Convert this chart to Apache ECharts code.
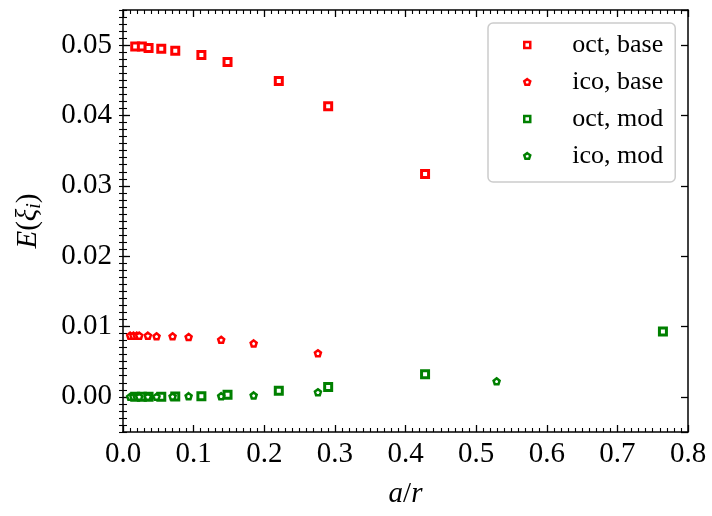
<!DOCTYPE html>
<html>
<head>
<meta charset="utf-8">
<script src="https://cdn.jsdelivr.net/npm/echarts@6/dist/echarts.min.js"></script>
<style>html,body{margin:0;padding:0;background:#fff;}#c{width:712px;height:516px;}</style>
</head>
<body>
<div id="c"></div>
<script>
// ---- data ----
const xOct = [0.0173, 0.0267, 0.0362, 0.0542, 0.074, 0.111, 0.148, 0.2206, 0.2905, 0.4277];
const octBase = [0.0498, 0.0498, 0.0496, 0.0495, 0.0492, 0.0486, 0.0476, 0.0449, 0.0413, 0.0317];
const xOctMod = [0.0173, 0.0267, 0.0362, 0.0542, 0.074, 0.111, 0.148, 0.2206, 0.2905, 0.4277, 0.7645];
const octMod = [0.0, 0.0, 0.0, 0.00002, 0.00005, 0.0001, 0.0003, 0.00085, 0.0014, 0.0032, 0.0093];
const xIco = [0.0102, 0.0149, 0.0196, 0.023, 0.0352, 0.0475, 0.0702, 0.0929, 0.139, 0.185, 0.276];
const icoBase = [0.0087, 0.0087, 0.0087, 0.0087, 0.0087, 0.0086, 0.0086, 0.0085, 0.0081, 0.0076, 0.0062];
const xIcoMod = [0.0102, 0.0149, 0.0196, 0.023, 0.0352, 0.0475, 0.0702, 0.0929, 0.139, 0.185, 0.276, 0.529];
const icoMod = [0.0, 0.0, 0.0, 0.0, 0.0, 0.0, 0.00005, 0.0001, 0.0001, 0.0002, 0.00065, 0.0022];
const seriesNames = ['oct, base', 'ico, base', 'oct, mod', 'ico, mod'];

const RED = '#ff0000', GREEN = '#008000';
const PENT = 'path://M0,-1L0.951,-0.309L0.588,0.809L-0.588,0.809L-0.951,-0.309Z';
const FONT = '"Liberation Serif", "Times New Roman", serif';

function pairs(xs, ys) { return xs.map((x, i) => [x, ys[i]]); }

const chart = echarts.init(document.getElementById('c'), null, {renderer: 'canvas'});

const lineStyle = {color: '#000', width: 1.5};
function xAx(pos, labels) {
  return {
    type: 'value', position: pos, min: 0, max: 0.8, interval: 0.1,
    axisLine: {show: true, onZero: false, lineStyle},
    axisTick: {show: true, inside: true, length: 7, lineStyle: {color: '#000', width: 1.3}},
    minorTick: {show: true, splitNumber: 10, length: 4, lineStyle: {color: '#000', width: 1.1}},
    splitLine: {show: false}, minorSplitLine: {show: false},
    axisLabel: {show: labels, fontFamily: FONT, fontSize: 29, color: '#000', margin: 8,
      formatter: v => v.toFixed(1)},
    name: labels ? '{i|a}/{i|r}' : '',
    nameLocation: 'middle', nameGap: 48,
    nameTextStyle: {fontFamily: FONT, fontSize: 29, color: '#000',
      rich: {i: {fontFamily: FONT, fontSize: 29, fontStyle: 'italic', color: '#000'}}}
  };
}
function yMain(pos, labels) {
  return {
    type: 'value', position: pos, min: -0.005, max: 0.055, splitNumber: 6,
    axisLine: {show: true, onZero: false, lineStyle},
    axisTick: {show: true, inside: true, length: 7, lineStyle: {color: '#000', width: 1.3}},
    minorTick: {show: false},
    splitLine: {show: false},
    axisLabel: {show: labels, fontFamily: FONT, fontSize: 29, color: '#000', margin: 11,
      showMinLabel: false, showMaxLabel: false, formatter: v => v.toFixed(2)},
    name: labels ? '{i|E}({i|ξ}{s|i})' : '',
    nameLocation: 'middle', nameGap: 78, nameRotate: 90,
    nameTextStyle: {fontFamily: FONT, fontSize: 29, color: '#000',
      rich: {
        i: {fontFamily: FONT, fontSize: 29, fontStyle: 'italic', color: '#000'},
        s: {fontFamily: FONT, fontSize: 20, fontStyle: 'italic', color: '#000', verticalAlign: 'bottom', padding: [14, 0, 0, 0]}
      }}
  };
}
function yMinor(pos) {
  return {
    type: 'value', position: pos, min: -0.005, max: 0.055, interval: 0.001,
    axisLine: {show: false},
    axisTick: {show: true, inside: true, length: 4, lineStyle: {color: '#000', width: 1.1}},
    axisLabel: {show: false}, splitLine: {show: false}
  };
}

const sym = [
  {symbol: 'rect', size: 7, color: RED},
  {symbol: PENT, size: 6, color: RED},
  {symbol: 'rect', size: 7, color: GREEN},
  {symbol: PENT, size: 6, color: GREEN}
];
const dataSets = [pairs(xOct, octBase), pairs(xIco, icoBase), pairs(xOctMod, octMod), pairs(xIcoMod, icoMod)];

chart.setOption({
  animation: false,
  backgroundColor: '#fff',
  grid: {left: 123, right: 24, top: 10, bottom: 84, containLabel: false, outerBoundsMode: 'none'},
  xAxis: [xAx('bottom', true), xAx('top', false)],
  yAxis: [yMain('left', true), yMain('right', false), yMinor('left'), yMinor('right')],
  legend: {
    orient: 'vertical', left: 488, top: 23,
    padding: [9, 12, 13, 35],
    itemGap: 11, itemWidth: 6, itemHeight: 6,
    backgroundColor: 'rgba(255,255,255,0.85)', borderColor: '#cccccc', borderWidth: 1.5, borderRadius: 5,
    textStyle: {fontFamily: FONT, fontSize: 26, color: '#000', padding: [0, 0, 0, 37]},
    data: seriesNames.map((n, i) => ({
      name: n, icon: sym[i].symbol === 'rect' ? 'rect' : PENT,
      itemStyle: {color: '#fff', borderColor: sym[i].color, borderWidth: 2.5}
    }))
  },
  series: seriesNames.map((n, i) => ({
    name: n, type: 'scatter', xAxisIndex: 0, yAxisIndex: 0,
    symbol: sym[i].symbol, symbolSize: sym[i].size,
    itemStyle: {color: '#fff', borderColor: sym[i].color, borderWidth: i % 2 === 0 ? 3 : 2.5, opacity: 1},
    emphasis: {disabled: true},
    data: dataSets[i]
  }))
});
</script>
</body>
</html>
